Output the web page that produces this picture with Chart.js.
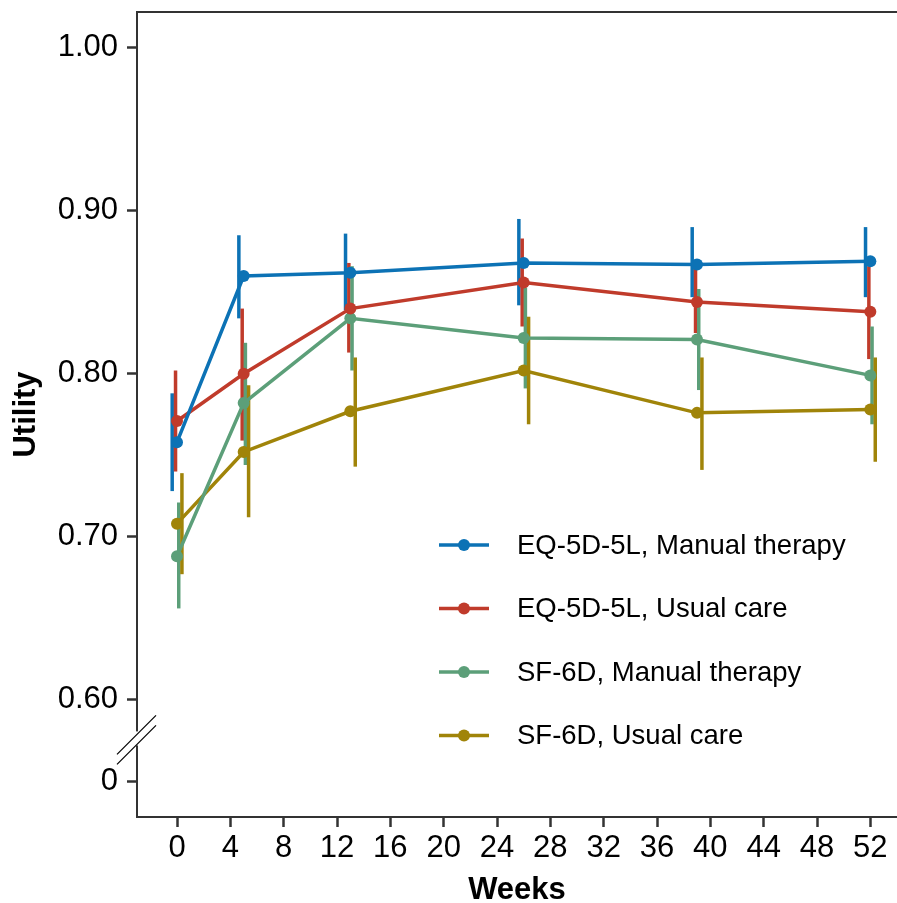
<!DOCTYPE html>
<html>
<head>
<meta charset="utf-8">
<script src="https://cdn.jsdelivr.net/npm/chart.js@4.4.0/dist/chart.umd.min.js"></script>
<style>
  body { margin: 0; background: #fff; }
  canvas { display: block; }
</style>
</head>
<body>
<canvas id="my-chart" width="897" height="903"></canvas>
<script>
// data
let weeks = [0, 5, 13, 26, 39, 52];

let seriesNames = ['EQ-5D-5L, Manual therapy', 'EQ-5D-5L, Usual care', 'SF-6D, Manual therapy', 'SF-6D, Usual care'];
let seriesColors = ['#0C72B5', '#C03B2B', '#5C9F79', '#A08409'];

let eqManual = [0.758, 0.860, 0.862, 0.868, 0.867, 0.869];
let eqManualLow = [0.728, 0.834, 0.839, 0.842, 0.847, 0.847];
let eqManualHigh = [0.788, 0.885, 0.886, 0.895, 0.890, 0.890];

let eqUsual = [0.771, 0.800, 0.840, 0.856, 0.844, 0.838];
let eqUsualLow = [0.740, 0.759, 0.813, 0.829, 0.825, 0.809];
let eqUsualHigh = [0.802, 0.840, 0.868, 0.883, 0.865, 0.866];

let sfManual = [0.688, 0.782, 0.834, 0.822, 0.821, 0.799];
let sfManualLow = [0.656, 0.744, 0.802, 0.791, 0.790, 0.769];
let sfManualHigh = [0.721, 0.819, 0.866, 0.853, 0.852, 0.829];

let sfUsual = [0.708, 0.752, 0.777, 0.802, 0.776, 0.778];
let sfUsualLow = [0.677, 0.712, 0.743, 0.769, 0.741, 0.746];
let sfUsualHigh = [0.739, 0.793, 0.810, 0.835, 0.810, 0.810];

let xTicks = [0, 4, 8, 12, 16, 20, 24, 28, 32, 36, 40, 44, 48, 52];
let yTicks = [0.60, 0.70, 0.80, 0.90, 1.00];
let yZeroAt = 0.55; // where "0" sits below the axis break

let means = [eqManual, eqUsual, sfManual, sfUsual];
let lows = [eqManualLow, eqUsualLow, sfManualLow, sfUsualLow];
let highs = [eqManualHigh, eqUsualHigh, sfManualHigh, sfUsualHigh];
let dodge = [-0.36, -0.11, 0.13, 0.37];

const FONT = '"Liberation Sans", Arial, sans-serif';
const AXIS = '#333333';

let datasets = [];
for (let i = 0; i < seriesNames.length; i++) {
    let pts = [];
    for (let j = 0; j < weeks.length; j++) {
        pts.push({ x: weeks[j], y: means[i][j] });
    }
    datasets.push({
        label: seriesNames[i],
        data: pts,
        showLine: true,
        borderColor: seriesColors[i],
        backgroundColor: seriesColors[i],
        borderWidth: 3.5,
        pointRadius: 6,
        pointHoverRadius: 6,
        pointBorderWidth: 0
    });
}

// error bars, drawn under the lines
let errorBars = {
    id: 'errorBars',
    beforeDatasetsDraw(chart) {
        let ctx = chart.ctx;
        let xs = chart.scales.x, ys = chart.scales.y;
        ctx.save();
        ctx.lineWidth = 3.5;
        for (let i = 0; i < seriesNames.length; i++) {
            ctx.strokeStyle = seriesColors[i];
            for (let j = 0; j < weeks.length; j++) {
                let px = xs.getPixelForValue(weeks[j] + dodge[i]);
                ctx.beginPath();
                ctx.moveTo(px, ys.getPixelForValue(lows[i][j]));
                ctx.lineTo(px, ys.getPixelForValue(highs[i][j]));
                ctx.stroke();
            }
        }
        ctx.restore();
    }
};

// top border, axis break marks and the legend
let extras = {
    id: 'extras',
    afterDraw(chart) {
        let ctx = chart.ctx;
        let area = chart.chartArea;
        let ys = chart.scales.y;
        ctx.save();

        ctx.strokeStyle = AXIS;
        ctx.lineWidth = 2;
        ctx.beginPath();
        ctx.moveTo(area.left - 1, area.top);
        ctx.lineTo(chart.width, area.top);
        ctx.stroke();

        // break marks
        let by = ys.getPixelForValue((yZeroAt + yTicks[0]) / 2);
        ctx.fillStyle = '#fff';
        ctx.fillRect(area.left - 3, by - 9, 6, 14);
        ctx.strokeStyle = '#000';
        ctx.lineWidth = 1.2;
        [-5, 5].forEach(function(off) {
            ctx.beginPath();
            ctx.moveTo(area.left - 20, by + off + 19);
            ctx.lineTo(area.left + 19, by + off - 20);
            ctx.stroke();
        });

        // legend
        let lx = 439, ly = 545, gap = 63.5;
        ctx.font = '27.5px ' + FONT;
        ctx.textBaseline = 'middle';
        for (let i = 0; i < seriesNames.length; i++) {
            let y = ly + i * gap;
            ctx.strokeStyle = seriesColors[i];
            ctx.fillStyle = seriesColors[i];
            ctx.lineWidth = 3.5;
            ctx.beginPath();
            ctx.moveTo(lx, y);
            ctx.lineTo(lx + 50, y);
            ctx.stroke();
            ctx.beginPath();
            ctx.arc(lx + 25, y, 6, 0, Math.PI * 2);
            ctx.fill();
            ctx.fillStyle = '#000';
            ctx.fillText(seriesNames[i], lx + 78, y + 1);
        }
        ctx.restore();
    }
};

let ctx = document.getElementById('my-chart').getContext('2d');
let myChart = new Chart(ctx, {
    type: 'scatter',
    data: { datasets: datasets },
    plugins: [errorBars, extras],
    options: {
        responsive: false,
        animation: false,
        layout: {
            autoPadding: false,
            padding: { top: 12, right: 0, left: 0, bottom: 0 }
        },
        plugins: {
            legend: { display: false },
            tooltip: { enabled: false }
        },
        scales: {
            x: {
                type: 'linear',
                min: -3,
                max: 54,
                afterBuildTicks: function(scale) {
                    scale.ticks = xTicks.map(function(v) { return { value: v }; });
                },
                afterFit: function(scale) {
                    scale.height = 86;
                    scale.paddingLeft = 0;
                    scale.paddingRight = 0;
                },
                ticks: {
                    color: '#000',
                    font: { family: FONT, size: 31 },
                    padding: 3,
                    maxRotation: 0,
                    autoSkip: false
                },
                grid: {
                    drawOnChartArea: false,
                    drawTicks: true,
                    tickLength: 10,
                    tickColor: AXIS,
                    tickWidth: 2.5
                },
                border: { display: true, color: AXIS, width: 2 },
                title: {
                    display: true,
                    text: 'Weeks',
                    color: '#000',
                    font: { family: FONT, size: 31, weight: 'bold' },
                    padding: { top: 0, bottom: -6 }
                }
            },
            y: {
                type: 'linear',
                min: 0.528,
                max: 1.022,
                afterBuildTicks: function(scale) {
                    let t = [{ value: yZeroAt }];
                    yTicks.forEach(function(v) { t.push({ value: v }); });
                    scale.ticks = t;
                },
                afterFit: function(scale) {
                    scale.width = 137;
                    scale.paddingTop = 0;
                    scale.paddingBottom = 0;
                },
                ticks: {
                    color: '#000',
                    font: { family: FONT, size: 31 },
                    padding: 9,
                    callback: function(v) {
                        return v === yZeroAt ? '0' : v.toFixed(2);
                    }
                },
                grid: {
                    drawOnChartArea: false,
                    drawTicks: true,
                    tickLength: 10,
                    tickColor: AXIS,
                    tickWidth: 2.5
                },
                border: { display: true, color: AXIS, width: 2 },
                title: {
                    display: true,
                    text: 'Utility',
                    color: '#000',
                    font: { family: FONT, size: 31, weight: 'bold' },
                    padding: { top: 8, bottom: 0 }
                }
            }
        }
    }
});
</script>
</body>
</html>
